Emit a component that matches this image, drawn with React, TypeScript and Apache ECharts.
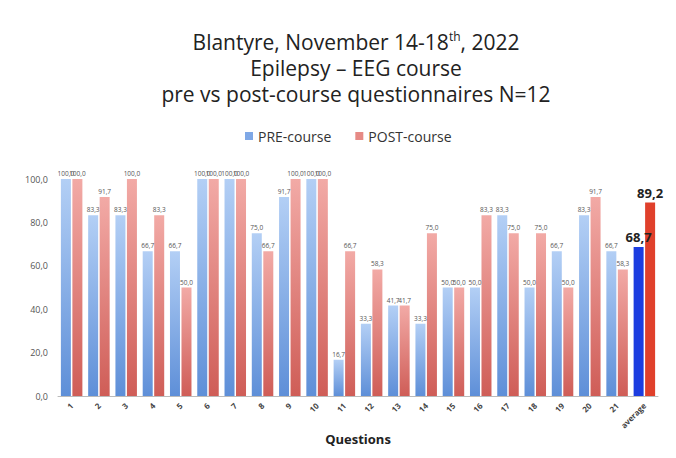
import React, { useEffect, useRef } from "react";
import * as echarts from "echarts";

const categories = ["1","2","3","4","5","6","7","8","9","10","11","12","13","14","15","16","17","18","19","20","21","average"];
const preValues = [100,83.3,83.3,66.7,66.7,100,100,75,91.7,100,16.7,33.3,41.7,33.3,50,50,83.3,50,66.7,83.3,66.7,68.7];
const postValues = [100,91.7,100,83.3,50,100,100,66.7,100,100,66.7,58.3,41.7,75,50,83.3,75,75,50,91.7,58.3,89.2];
const yTicks = [0,20,40,60,80,100];

const fmt = (v: number) => v.toFixed(1).replace(".", ",");

export default function App() {
  const ref = useRef<HTMLDivElement>(null);
  useEffect(() => {
    if (!ref.current) return;
    const chart = echarts.init(ref.current, undefined, { renderer: "svg" });
    const preGrad = new echarts.graphic.LinearGradient(0, 0, 0, 1, [
      { offset: 0, color: "#b3cff5" },
      { offset: 1, color: "#5e8fd8" },
    ]);
    const postGrad = new echarts.graphic.LinearGradient(0, 0, 0, 1, [
      { offset: 0, color: "#f2aaa6" },
      { offset: 1, color: "#cf5d57" },
    ]);
    const last = categories.length - 1;
    const mk = (vals: number[], grad: any, avgColor: string) =>
      vals.map((v, i) =>
        i === last
          ? {
              value: v,
              itemStyle: { color: avgColor },
              label: { fontSize: 13, fontWeight: "bold", color: "#222", distance: 3 },
            }
          : { value: v, itemStyle: { color: grad } }
      );
    chart.setOption({
      animation: false,
      backgroundColor: "#ffffff",
      textStyle: { fontFamily: "Open Sans" },
      title: {
        left: 351,
        textAlign: "center",
        top: 24,
        text: "Blantyre, November 14-18{sup|th}, 2022\nEpilepsy – EEG course\npre vs post-course questionnaires N=12",
        textStyle: {
          fontFamily: "Open Sans",
          fontSize: 21,
          fontWeight: "normal",
          color: "#222",
          lineHeight: 26,
          rich: {
            sup: { fontSize: 12, color: "#222", padding: [0, 0, 12, 0], fontFamily: "Open Sans" },
          },
        },
      },
      legend: {
        top: 124,
        left: 240,
        itemWidth: 8,
        itemHeight: 8,
        itemGap: 24,
        icon: "rect",
        textStyle: { fontSize: 14, color: "#333", fontFamily: "Open Sans" },
        data: [
          { name: "PRE-course", itemStyle: { color: "#7fa8e6" } },
          { name: "POST-course", itemStyle: { color: "#e68a85" } },
        ],
      },
      grid: { left: 58, right: 18, top: 179, bottom: 62 },
      xAxis: {
        type: "category",
        data: categories,
        name: "Questions",
        nameLocation: "middle",
        nameGap: 36,
        nameTextStyle: { fontSize: 13, fontWeight: "bold", color: "#222", fontFamily: "Open Sans" },
        axisLine: { lineStyle: { color: "#bbbbbb" } },
        axisTick: { show: false },
        axisLabel: { rotate: 45, fontSize: 8, fontWeight: "bold", color: "#444", margin: 8, interval: 0 },
      },
      yAxis: {
        type: "value",
        min: 0,
        max: 100,
        interval: 20,
        splitLine: { show: false },
        axisLine: { show: false },
        axisTick: { show: false },
        axisLabel: {
          fontSize: 9,
          color: "#555",
          margin: 10,
          formatter: (v: number) => (yTicks.includes(v) ? fmt(v) : ""),
        },
      },
      series: [
        {
          name: "PRE-course",
          type: "bar",
          barWidth: 10,
          barGap: "15%",
          data: mk(preValues, preGrad, "#1c3de0"),
          label: { show: true, position: "top", fontSize: 6.5, color: "#555", distance: 2, formatter: (p: any) => fmt(p.value) },
        },
        {
          name: "POST-course",
          type: "bar",
          barWidth: 10,
          data: mk(postValues, postGrad, "#e0402b"),
          label: { show: true, position: "top", fontSize: 6.5, color: "#555", distance: 2, formatter: (p: any) => fmt(p.value) },
        },
      ],
    });
    return () => chart.dispose();
  }, []);
  return (
    <div
      ref={ref}
      style={{ position: "fixed", left: 0, top: 0, width: 676, height: 458, background: "#fff" }}
    />
  );
}
